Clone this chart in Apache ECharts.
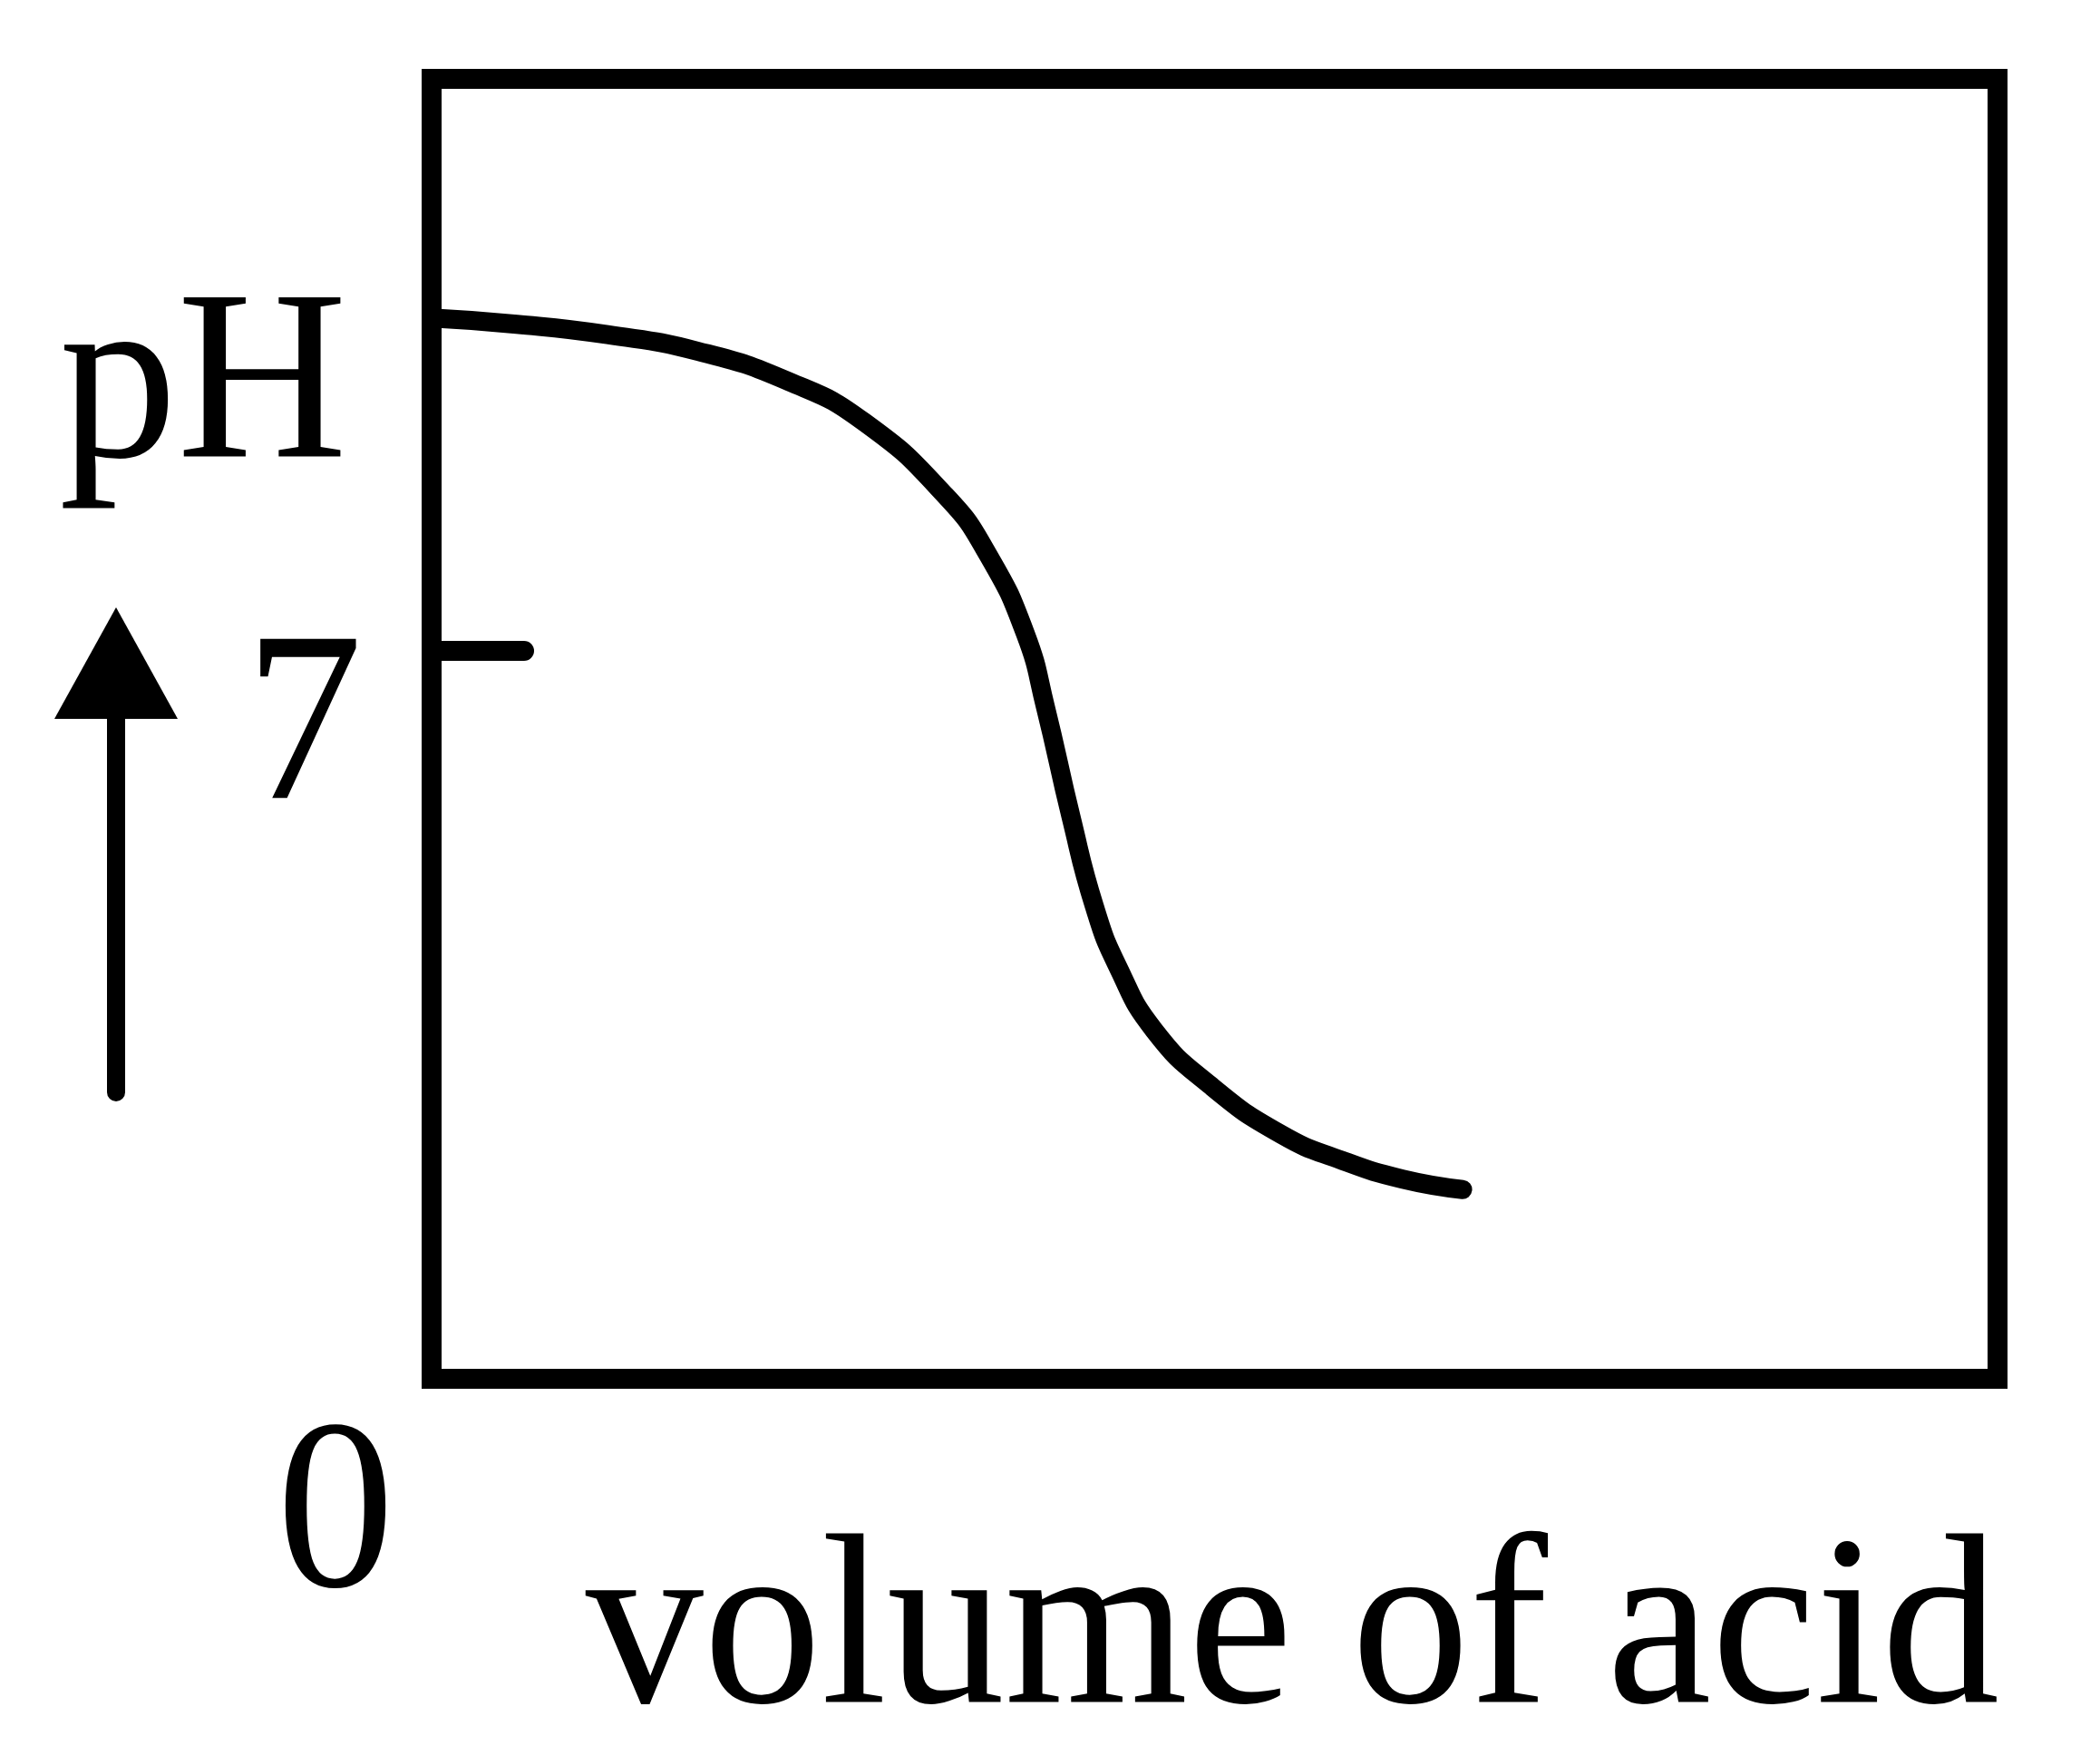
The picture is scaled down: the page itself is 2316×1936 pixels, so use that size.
<!DOCTYPE html>
<html>
<head>
<meta charset="utf-8">
<script src="https://cdn.jsdelivr.net/npm/echarts@6/dist/echarts.min.js"></script>
<style>
html,body{margin:0;padding:0;background:#fff;}
#chart{width:2316px;height:1936px;}
</style>
</head>
<body>
<div id="chart"></div>
<script>
// Data
const volume = [0, 0.544, 1.123, 1.702, 2.281, 2.762, 3.283, 3.555, 3.793, 3.920, 4.082, 4.233, 4.383, 4.615, 4.974, 5.426, 5.814, 6.201, 6.584];
const pHValues = [10.20, 10.14, 10.04, 9.88, 9.59, 9.20, 8.49, 7.92, 7.16, 6.46, 5.41, 4.54, 3.96, 3.35, 2.82, 2.35, 2.10, 1.92, 1.82];
const yTickValues = [7];
const yTickLabels = ['7'];
const originLabel = '0';
const yAxisTitle = 'pH';
const xAxisTitle = 'volume of acid';

const FS = 268;
const FONT = FS + 'px "Liberation Serif"';
const SX = 0.97;

const chart = echarts.init(document.getElementById('chart'), null, {renderer: 'canvas'});
const points = volume.map((v, i) => [v, pHValues[i]]);

chart.setOption({
  backgroundColor: '#ffffff',
  animation: false,
  grid: {
    left: 476, right: 113, top: 87, bottom: 415,
    show: true, borderColor: '#000', borderWidth: 22, backgroundColor: 'transparent'
  },
  xAxis: {
    type: 'value', min: 0, max: 10,
    axisLine: {show: false}, axisTick: {show: false}, axisLabel: {show: false}, splitLine: {show: false}
  },
  yAxis: {
    type: 'value', min: 0, max: 12.5,
    axisLine: {show: false},
    splitLine: {show: false},
    axisLabel: {show: false},
    axisTick: {
      show: true, inside: true, length: 102, customValues: yTickValues,
      lineStyle: {color: '#000', width: 22, cap: 'round'}
    }
  },
  series: [{
    type: 'line',
    data: points,
    showSymbol: false,
    smooth: 0.5,
    clip: false,
    lineStyle: {color: '#000', width: 21, cap: 'round', join: 'round'}
  }]
});

// Place text labels relative to the axis scale
const axisX = chart.convertToPixel({xAxisIndex: 0}, 0);
const axisXEnd = chart.convertToPixel({xAxisIndex: 0}, 10);
const axisY0 = chart.convertToPixel({yAxisIndex: 0}, 0);
const tickTexts = yTickValues.map((v, i) => ({
  type: 'text',
  x: axisX - 76,
  y: chart.convertToPixel({yAxisIndex: 0}, v) + 92,
  scaleX: SX,
  style: {text: yTickLabels[i], font: FONT, fill: '#000', textAlign: 'right', textVerticalAlign: 'middle'}
}));

chart.setOption({
  graphic: tickTexts.concat([
    {type: 'text', x: 383, y: 433, scaleX: SX, style: {text: yAxisTitle, font: FONT, fill: '#000', textAlign: 'right', textVerticalAlign: 'middle'}},
    {type: 'text', x: axisX - 106, y: axisY0 + 158, scaleX: SX, style: {text: originLabel, font: FONT, fill: '#000', textAlign: 'center', textVerticalAlign: 'middle'}},
    {type: 'text', x: axisXEnd + 2, y: axisY0 + 286, scaleX: SX, style: {text: xAxisTitle, font: FONT, fill: '#000', textAlign: 'right', textVerticalAlign: 'middle'}},
    {type: 'line', shape: {x1: 128, y1: 1205, x2: 128, y2: 790}, style: {stroke: '#000', lineWidth: 20, lineCap: 'round'}},
    {type: 'polygon', shape: {points: [[128, 670], [60, 793], [196, 793]]}, style: {fill: '#000'}}
  ])
});
</script>
</body>
</html>
